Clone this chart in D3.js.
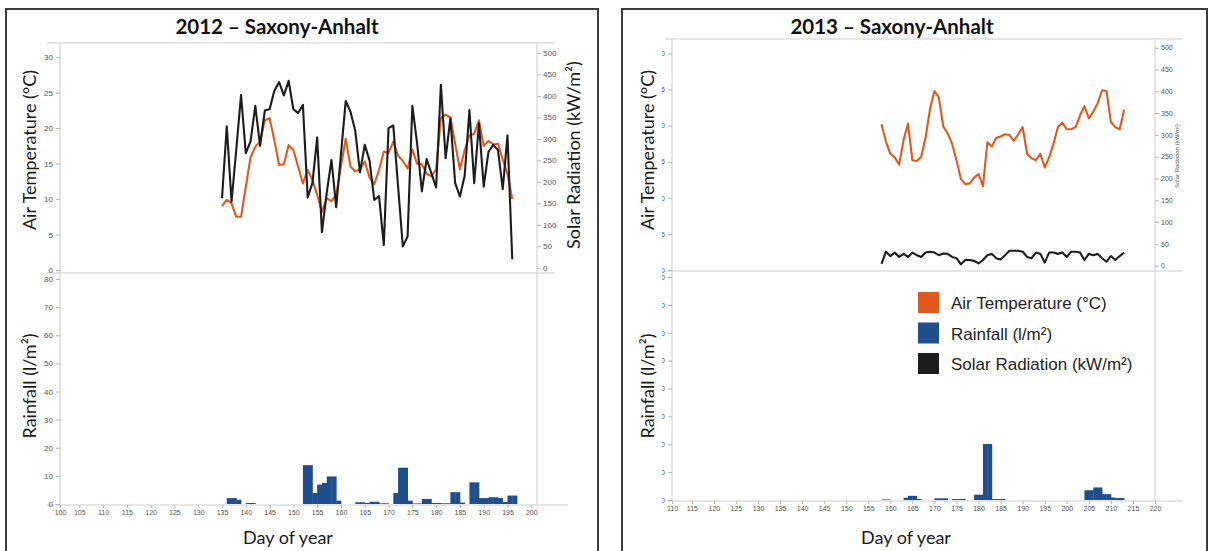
<!DOCTYPE html>
<html>
<head>
<meta charset="utf-8">
<script src="https://cdn.jsdelivr.net/npm/d3@7"></script>
<style>
  html, body { margin: 0; padding: 0; background: #fff; }
  svg { display: block; }
  .tick text { font-family: "Liberation Sans", Arial, sans-serif; fill: #555; }
  .tick line { stroke: #b5b5b5; }
</style>
</head>
<body>
<svg id="chart" width="1213" height="551"></svg>
<script>
// ---- 2012 season (daily values, first day 135) ----
const firstDay2012 = 135;
const airTemp2012 = [
  9.0, 9.9, 9.4, 7.5, 7.5, 11.7, 15.9, 17.4, 18.1, 21.1,
  21.4, 18.3, 14.8, 14.9, 17.6, 16.9, 14.6, 12.2, 14.1, 12.7,
  10.6, 8.2, 10.1, 9.7, 10.6, 14.6, 18.5, 14.6, 13.9, 14.2,
  15.3, 13.1, 12.1, 14.1, 16.7, 16.5, 18.1, 16.1, 15.4, 14.3,
  17.0, 15.0, 14.9, 13.6, 13.2, 14.2, 21.4, 21.9, 21.5, 17.8,
  14.2, 16.9, 19.0, 19.2, 21.1, 17.5, 18.2, 17.7, 17.8, 15.6,
  13.5, 10.0
];
const solarRad2012 = [
  162, 329, 154, 275, 402, 267, 294, 377, 284, 366,
  369, 412, 432, 401, 435, 369, 360, 379, 164, 197,
  303, 83, 174, 251, 141, 265, 388, 363, 319, 222,
  286, 250, 158, 167, 53, 325, 331, 190, 50, 73,
  377, 290, 178, 253, 220, 187, 426, 255, 348, 197,
  166, 214, 367, 197, 336, 189, 270, 286, 274, 183,
  308, 20
];
const rainDays2012 = [136, 137, 138, 140, 141, 152, 153, 154, 155, 156, 157, 158, 159,
  163, 164, 165, 166, 167, 168, 169, 171, 172, 173, 174, 175, 176, 177, 178, 179, 180,
  181, 182, 183, 184, 185, 187, 188, 189, 190, 191, 192, 193, 194, 195, 196];
const rain2012 = [2.1, 2.1, 1.5, 0.35, 0.35, 13.8, 13.8, 3.9, 6.9, 7.5, 9.8, 9.8, 1.2,
  0.6, 0.6, 0.35, 0.8, 0.8, 0.25, 0.25, 3.9, 12.9, 12.9, 1.2, 0.2, 0.2, 1.8, 1.8, 0.35, 0.35,
  0.25, 0.25, 4.2, 4.2, 0.5, 7.7, 7.7, 2.1, 2.1, 2.4, 2.4, 2.1, 0.7, 3.0, 3.0];

// ---- 2013 season (daily values, first day 158) ----
const firstDay2013 = 158;
const airTemp2013 = [
  20.2, 17.8, 16.1, 15.6, 14.6, 18.0, 20.3, 15.2, 15.1, 15.7,
  18.4, 22.3, 24.8, 23.9, 19.9, 18.9, 17.5, 15.2, 12.6, 11.9,
  12.0, 12.8, 13.3, 11.6, 17.7, 17.1, 18.3, 18.5, 18.8, 18.7,
  17.9, 18.8, 19.8, 16.1, 15.5, 15.2, 16.1, 14.2, 15.6, 17.5,
  19.8, 20.4, 19.5, 19.5, 19.8, 21.4, 22.7, 21.0, 21.9, 23.1,
  24.9, 24.8, 20.5, 19.8, 19.5, 22.2
];
const solarRad2013 = [
  4, 32, 22, 30, 20, 27, 20, 30, 24, 20,
  30, 32, 30, 24, 28, 27, 20, 17, 3, 13,
  13, 11, 5, 13, 24, 27, 17, 14, 24, 34,
  34, 34, 32, 20, 17, 30, 27, 7, 30, 30,
  27, 30, 20, 32, 32, 30, 13, 27, 24, 27,
  17, 9, 22, 13, 22, 30
];
const rainDays2013 = [158, 159, 163, 164, 165, 166, 170, 171, 172, 174, 175, 176, 179, 180,
  181, 182, 183, 184, 185, 204, 205, 206, 207, 208, 209, 210, 211, 212];
const rain2013 = [0.2, 0.2, 0.8, 1.5, 1.5, 0.35, 0.6, 0.6, 0.6, 0.35, 0.35, 0.35, 1.9, 1.9,
  20.1, 20.1, 0.35, 0.35, 0.35, 3.5, 3.5, 4.5, 4.5, 2.1, 2.1, 0.9, 0.7, 0.7];

// ---- tick labels ----
const dayTicks2012 = [100, 105, 110, 115, 120, 125, 130, 135, 140, 145, 150, 155, 160, 165, 170, 175, 180, 185, 190, 195, 200];
const dayTicks2013 = [110, 115, 120, 125, 130, 135, 140, 145, 150, 155, 160, 165, 170, 175, 180, 185, 190, 195, 200, 205, 210, 215, 220];
const tempTicks = [0, 5, 10, 15, 20, 25, 30];
const solarTicks = [0, 50, 100, 150, 200, 250, 300, 350, 400, 450, 500];
const rainTicks = [0, 10, 20, 30, 40, 50, 60, 70, 80];

const legendLabels = ["Air Temperature (°C)", "Rainfall (l/m²)", "Solar Radiation (kW/m²)"];

const COLORS = { temp: "#E0591F", rain: "#1F4E8D", solar: "#1c1c1c", axis: "#cdcdcd", frame: "#3c3c3c" };
const TITLE_FONT = "Lato, 'Open Sans', sans-serif";

const svg = d3.select("#chart");
svg.append("rect").attr("width", 1213).attr("height", 551).attr("fill", "#fff");

const defs = svg.append("defs");

function series(first, values) {
  return values.map((v, i) => ({ day: first + i, v }));
}

function rotatedLabel(g, x, y, text, size, color, family) {
  g.append("text")
    .attr("transform", `translate(${x},${y}) rotate(-90)`)
    .attr("text-anchor", "middle")
    .attr("font-family", family)
    .attr("font-size", size)
    .attr("fill", color)
    .text(text);
}

function drawPanel(p) {
  const g = svg.append("g");

  g.append("rect")
    .attr("x", p.frame[0]).attr("y", p.frame[1])
    .attr("width", p.frame[2]).attr("height", p.frame[3])
    .attr("fill", "none").attr("stroke", COLORS.frame).attr("stroke-width", 2);

  g.append("text")
    .attr("x", p.titleX).attr("y", 34)
    .attr("text-anchor", "middle")
    .attr("font-family", TITLE_FONT).attr("font-weight", 700).attr("font-size", 20.5)
    .attr("fill", "#111")
    .text(p.title);

  const x = d3.scaleLinear().domain(p.dayDomain).range([p.x0, p.x1]).clamp(true);
  const yT = d3.scaleLinear().domain([0, 32]).range([p.tempBase, p.top]);
  const yS = d3.scaleLinear().domain(p.solarDomain).range([p.tempBase, p.top]);
  const yR = d3.scaleLinear().domain([0, 80]).range([p.rainBase, p.rainTop]);

  // plot frame lines
  const gl = g.append("g").attr("stroke", COLORS.axis).attr("stroke-width", 1).attr("fill", "none");
  gl.append("line").attr("x1", p.gridL).attr("x2", p.gridR).attr("y1", p.top).attr("y2", p.top);
  gl.append("line").attr("x1", p.gridL).attr("x2", p.gridR).attr("y1", p.mid).attr("y2", p.mid);
  gl.append("line").attr("x1", p.gridL).attr("x2", p.axisR).attr("y1", p.bottom).attr("y2", p.bottom);
  gl.append("line").attr("x1", p.x0).attr("x2", p.x0).attr("y1", p.top).attr("y2", p.bottom);
  gl.append("line").attr("x1", p.x1).attr("x2", p.x1).attr("y1", p.top).attr("y2", p.bottom);

  // rainfall bars
  g.append("g").selectAll("rect")
    .data(p.rainDays.map((d, i) => ({ day: d, v: p.rain[i] })))
    .join("rect")
    .attr("x", d => x(d.day))
    .attr("width", d => x(d.day + 1) - x(d.day) + 0.4)
    .attr("y", d => yR(d.v))
    .attr("height", d => yR(0) - yR(d.v))
    .attr("fill", COLORS.rain);

  // temperature and radiation lines
  const lineT = d3.line().x(d => x(d.day)).y(d => yT(d.v));
  const lineS = d3.line().x(d => x(d.day)).y(d => yS(d.v));
  g.append("path").datum(series(p.firstDay, p.temp))
    .attr("d", lineT).attr("fill", "none").attr("stroke", COLORS.temp)
    .attr("stroke-width", 2.1).attr("stroke-linejoin", "round");
  g.append("path").datum(series(p.firstDay, p.solar))
    .attr("d", lineS).attr("fill", "none").attr("stroke", COLORS.solar)
    .attr("stroke-width", 2.1).attr("stroke-linejoin", "round");

  // axes
  const leftAxes = g.append("g");
  if (p.clipLeft) {
    defs.append("clipPath").attr("id", p.id + "-clip")
      .append("rect").attr("x", p.clipLeft).attr("y", 0).attr("width", 60).attr("height", 551);
    leftAxes.attr("clip-path", `url(#${p.id}-clip)`);
  }
  const aT = leftAxes.append("g").attr("transform", `translate(${p.x0},0)`)
    .call(d3.axisLeft(yT).tickValues(tempTicks).tickSize(4).tickPadding(3));
  const aR = leftAxes.append("g").attr("transform", `translate(${p.x0},0)`)
    .call(d3.axisLeft(yR).tickValues(rainTicks).tickSize(4).tickPadding(3));
  const aS = g.append("g").attr("transform", `translate(${p.x1},0)`)
    .call(d3.axisRight(yS).tickValues(solarTicks).tickSize(4).tickPadding(2));
  const aX = g.append("g").attr("transform", `translate(0,${p.bottom})`)
    .call(d3.axisBottom(x).tickValues(p.dayTicks).tickSize(3).tickPadding(2));
  [aT, aR, aS, aX].forEach(a => a.select(".domain").remove());
  [aT, aR, aS].forEach(a => a.selectAll("text").attr("font-size", p.yTickSize));
  aX.selectAll("text").attr("font-size", 7);

  // axis titles
  rotatedLabel(g, p.leftTitleX, 150, "Air Temperature (°C)", 18, "#1a1a1a", TITLE_FONT);
  rotatedLabel(g, p.leftTitleX, 386, "Rainfall (l/m²)", 18, "#1a1a1a", TITLE_FONT);
  rotatedLabel(g, p.rightTitleX, p.rightTitleY, "Solar Radiation (kW/m²)", p.rightTitleSize,
    p.rightTitleSize > 10 ? "#1a1a1a" : "#555", p.rightTitleSize > 10 ? TITLE_FONT : "'Liberation Sans', Arial, sans-serif");
  g.append("text")
    .attr("x", p.dayLabelX).attr("y", 544)
    .attr("text-anchor", "middle")
    .attr("font-family", TITLE_FONT).attr("font-size", 18).attr("fill", "#1a1a1a")
    .text("Day of year");

  return g;
}

drawPanel({
  id: "p2012", title: "2012 – Saxony-Anhalt", titleX: 277,
  frame: [6, 9, 592, 560],
  x0: 60, x1: 537, top: 43, mid: 273, bottom: 505,
  gridL: 47, gridR: 555, axisR: 568,
  tempBase: 270, rainBase: 504, rainTop: 279,
  dayDomain: [100.95, 201.2], solarDomain: [-5, 523],
  dayTicks: dayTicks2012,
  firstDay: firstDay2012, temp: airTemp2012, solar: solarRad2012,
  rainDays: rainDays2012, rain: rain2012,
  yTickSize: 8,
  leftTitleX: 36, rightTitleX: 580, rightTitleY: 155, rightTitleSize: 18,
  dayLabelX: 288
});

const right = drawPanel({
  id: "p2013", title: "2013 – Saxony-Anhalt", titleX: 892,
  frame: [622, 9, 585, 560],
  x0: 672, x1: 1155, top: 39, mid: 271, bottom: 501,
  gridL: 665, gridR: 1183, axisR: 1183,
  tempBase: 270, rainBase: 500, rainTop: 277,
  dayDomain: [110.5, 220], solarDomain: [-10, 520],
  dayTicks: dayTicks2013,
  firstDay: firstDay2013, temp: airTemp2013, solar: solarRad2013,
  rainDays: rainDays2013, rain: rain2013,
  yTickSize: 7, clipLeft: 662,
  leftTitleX: 654, rightTitleX: 1179, rightTitleY: 156, rightTitleSize: 6,
  dayLabelX: 906
});

// legend
const legendColors = [COLORS.temp, COLORS.rain, COLORS.solar];
const lg = right.append("g").attr("transform", "translate(918,292)");
legendLabels.forEach((label, i) => {
  lg.append("rect").attr("x", 0).attr("y", i * 30.5).attr("width", 21).attr("height", 21)
    .attr("fill", legendColors[i]);
  lg.append("text").attr("x", 33).attr("y", i * 30.5 + 17)
    .attr("font-family", "'Liberation Sans', Arial, sans-serif").attr("font-size", 17)
    .attr("fill", "#222").text(label);
});
</script>
</body>
</html>
